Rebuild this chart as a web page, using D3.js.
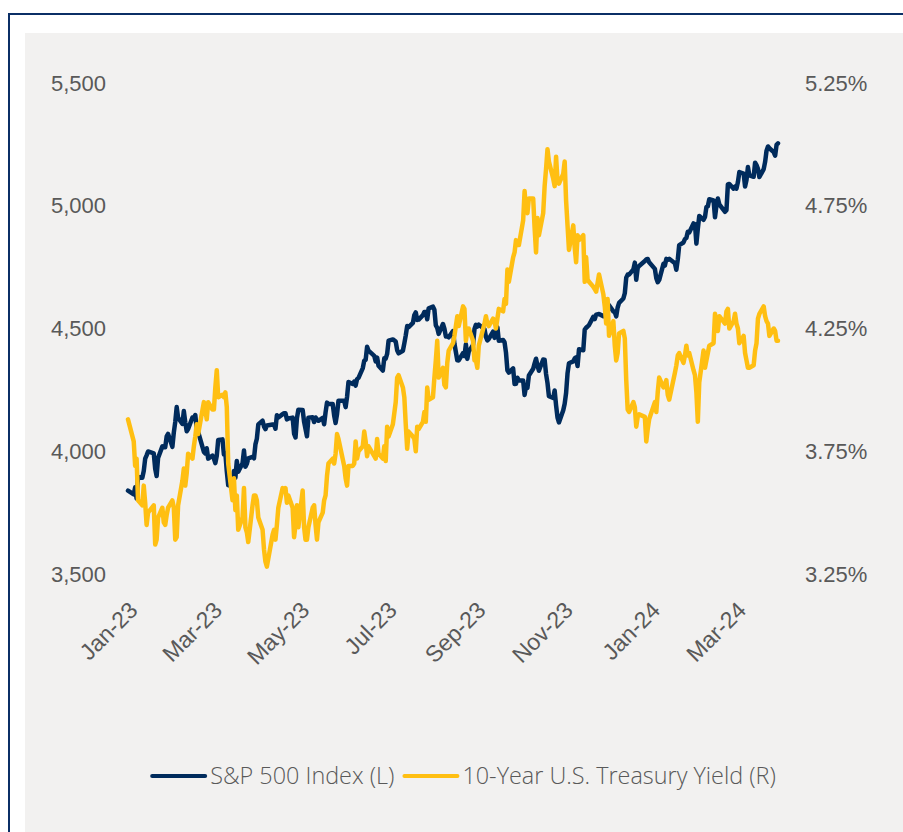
<!DOCTYPE html>
<html lang="en">
<head>
<meta charset="UTF-8">
<title>S&amp;P 500 Index vs 10-Year U.S. Treasury Yield</title>
<script src="https://cdn.jsdelivr.net/npm/d3@7"></script>
<style>
  body { margin: 0; background: #fff; }
  svg { display: block; font-family: 'Segoe UI', 'Open Sans', 'Noto Sans', sans-serif; }
  .lbl text { fill: #595959; font-size: 22px; font-weight: 350; }
  .xlbl text { font-size: 23px; }
  .legend text { font-size: 23.4px; }
</style>
</head>
<body>
<svg id="chart" width="903" height="832"></svg>
<script>
// trading days: weekdays between these dates, minus exchange holidays
const firstDay = "2022-12-30";
const lastDay = "2024-03-28";
const holidays = [
  "2023-01-02", "2023-01-16", "2023-02-20", "2023-04-07", "2023-05-29", "2023-06-19",
  "2023-07-04", "2023-09-04", "2023-11-23", "2023-12-25", "2024-01-01", "2024-01-15", "2024-02-19"
];

// S&P 500 closes (left axis), one line per month
const spx = [
  3839.5,
  3824.1, 3853.0, 3808.1, 3895.1, 3892.1, 3919.3, 3969.6, 3983.2, 3999.1, 3991.0, 3928.9, 3898.9, 3972.6, 4019.8, 4017.0, 4016.2, 4060.4, 4070.6, 4017.8, 4076.6,
  4119.2, 4179.8, 4136.5, 4111.1, 4164.0, 4117.9, 4081.5, 4090.5, 4137.3, 4136.1, 4147.6, 4090.4, 4079.1, 3997.3, 3991.1, 4012.3, 3970.0, 3982.2, 3970.2,
  3951.4, 3981.4, 4045.6, 4048.4, 3986.4, 3992.0, 3918.3, 3861.6, 3855.8, 3919.3, 3891.9, 3960.3, 3916.6, 3951.6, 4002.9, 3937.0, 3948.7, 3971.0, 3977.5, 3971.3, 4027.8, 4050.8, 4109.3,
  4124.5, 4100.6, 4090.4, 4105.0, 4109.1, 4108.9, 4092.0, 4146.2, 4137.6, 4151.3, 4154.9, 4154.5, 4129.8, 4133.5, 4137.0, 4071.6, 4056.0, 4135.4, 4169.5,
  4167.9, 4119.6, 4090.8, 4061.2, 4136.3, 4138.1, 4119.2, 4137.6, 4130.6, 4124.1, 4136.3, 4109.9, 4158.8, 4198.1, 4192.0, 4192.6, 4145.6, 4115.2, 4151.3, 4205.5, 4205.5, 4179.8,
  4221.0, 4282.4, 4273.8, 4283.9, 4267.5, 4293.9, 4298.9, 4338.9, 4369.0, 4372.6, 4425.8, 4409.6, 4388.7, 4365.7, 4381.9, 4348.3, 4328.8, 4378.4, 4376.9, 4396.4, 4450.4,
  4455.6, 4446.8, 4411.6, 4399.0, 4409.5, 4439.3, 4472.2, 4510.0, 4505.4, 4522.8, 4555.0, 4565.7, 4534.9, 4536.3, 4554.6, 4567.5, 4566.8, 4537.4, 4582.2, 4589.0,
  4576.7, 4513.4, 4501.9, 4478.0, 4518.4, 4499.4, 4467.7, 4468.8, 4464.1, 4489.7, 4437.9, 4404.3, 4370.4, 4369.7, 4399.8, 4387.6, 4436.0, 4376.3, 4405.7, 4433.3, 4497.6, 4514.9, 4507.7,
  4515.8, 4496.8, 4465.5, 4451.1, 4457.5, 4487.5, 4461.9, 4467.4, 4505.1, 4450.3, 4453.5, 4444.0, 4402.2, 4330.0, 4320.1, 4337.4, 4273.5, 4274.5, 4299.7, 4288.1,
  4288.4, 4229.5, 4263.8, 4258.2, 4308.5, 4335.7, 4358.2, 4377.0, 4349.6, 4327.8, 4373.6, 4373.2, 4314.6, 4278.0, 4224.2, 4217.0, 4247.7, 4186.8, 4137.2, 4117.4, 4166.8, 4193.8,
  4237.9, 4317.8, 4358.3, 4366.0, 4378.4, 4382.8, 4347.4, 4415.2, 4411.6, 4495.7, 4502.9, 4508.2, 4514.0, 4547.4, 4538.2, 4556.6, 4559.3, 4550.4, 4554.9, 4550.6, 4567.8,
  4594.6, 4569.8, 4567.2, 4549.3, 4585.6, 4604.4, 4622.4, 4643.7, 4707.1, 4719.6, 4719.2, 4740.6, 4768.4, 4698.4, 4746.8, 4754.6, 4774.8, 4781.6, 4783.4, 4769.8,
  4742.8, 4704.8, 4688.7, 4697.2, 4763.5, 4756.5, 4783.5, 4780.2, 4783.8, 4766.0, 4739.2, 4780.9, 4839.8, 4850.4, 4864.6, 4868.6, 4894.2, 4891.0, 4927.9, 4925.0, 4845.7,
  4906.2, 4958.6, 4942.8, 4954.2, 4995.1, 4997.9, 5026.6, 5021.8, 4953.2, 5000.6, 5029.7, 5005.6, 4975.5, 4981.8, 5087.0, 5088.8, 5069.5, 5078.2, 5069.8, 5096.3,
  5137.1, 5131.0, 5078.7, 5104.8, 5157.4, 5123.7, 5117.9, 5175.3, 5165.3, 5150.5, 5117.1, 5149.4, 5178.5, 5224.6, 5241.5, 5234.2, 5218.2, 5203.6, 5248.5, 5254.4
];

// 10-year U.S. Treasury yield in % (right axis), same days
const ust10 = [
  3.88,
  3.79, 3.69, 3.72, 3.55, 3.53, 3.61, 3.54, 3.45, 3.50, 3.53, 3.37, 3.39, 3.48, 3.52, 3.46, 3.45, 3.49, 3.52, 3.55, 3.52,
  3.39, 3.40, 3.53, 3.63, 3.68, 3.61, 3.66, 3.74, 3.72, 3.77, 3.81, 3.86, 3.82, 3.95, 3.92, 3.88, 3.95, 3.92, 3.92,
  4.01, 4.08, 3.97, 3.98, 3.97, 3.99, 3.93, 3.70, 3.55, 3.64, 3.51, 3.57, 3.43, 3.48, 3.60, 3.44, 3.42, 3.38, 3.53, 3.57, 3.57, 3.55, 3.48,
  3.43, 3.35, 3.30, 3.28, 3.41, 3.43, 3.39, 3.45, 3.52, 3.60, 3.59, 3.60, 3.54, 3.57, 3.52, 3.40, 3.45, 3.53, 3.44,
  3.59, 3.44, 3.39, 3.39, 3.44, 3.52, 3.53, 3.45, 3.39, 3.46, 3.50, 3.55, 3.57, 3.65, 3.70, 3.72, 3.70, 3.74, 3.82, 3.80, 3.69, 3.64,
  3.61, 3.69, 3.69, 3.70, 3.79, 3.72, 3.75, 3.77, 3.83, 3.79, 3.73, 3.77, 3.73, 3.72, 3.80, 3.74, 3.72, 3.77, 3.71, 3.85, 3.81,
  3.86, 3.95, 4.05, 4.06, 4.01, 3.97, 3.86, 3.76, 3.83, 3.81, 3.80, 3.75, 3.85, 3.84, 3.87, 3.91, 3.87, 4.01, 3.96, 3.97,
  4.05, 4.12, 4.20, 4.05, 4.09, 4.02, 4.01, 4.11, 4.16, 4.19, 4.22, 4.26, 4.30, 4.26, 4.34, 4.33, 4.20, 4.24, 4.25, 4.20, 4.12, 4.12, 4.09,
  4.18, 4.27, 4.30, 4.27, 4.26, 4.29, 4.28, 4.25, 4.29, 4.33, 4.32, 4.37, 4.35, 4.49, 4.44, 4.54, 4.56, 4.61, 4.59, 4.59,
  4.69, 4.81, 4.73, 4.72, 4.78, 4.78, 4.66, 4.56, 4.70, 4.63, 4.72, 4.83, 4.90, 4.98, 4.93, 4.86, 4.83, 4.95, 4.85, 4.84, 4.88, 4.93,
  4.77, 4.67, 4.57, 4.67, 4.58, 4.52, 4.63, 4.61, 4.63, 4.44, 4.54, 4.45, 4.44, 4.42, 4.41, 4.40, 4.47, 4.39, 4.34, 4.27, 4.37,
  4.22, 4.28, 4.18, 4.12, 4.15, 4.23, 4.24, 4.21, 4.04, 3.92, 3.91, 3.95, 3.93, 3.85, 3.89, 3.90, 3.89, 3.79, 3.84, 3.88,
  3.95, 3.91, 3.99, 4.05, 4.01, 4.02, 4.04, 3.98, 3.96, 4.07, 4.10, 4.14, 4.15, 4.11, 4.14, 4.18, 4.14, 4.15, 4.08, 4.06, 3.99,
  3.87, 4.03, 4.16, 4.09, 4.12, 4.15, 4.18, 4.19, 4.31, 4.27, 4.24, 4.30, 4.27, 4.32, 4.33, 4.25, 4.28, 4.31, 4.27, 4.25,
  4.19, 4.22, 4.15, 4.12, 4.09, 4.09, 4.10, 4.16, 4.19, 4.29, 4.31, 4.34, 4.30, 4.28, 4.27, 4.22, 4.25, 4.24, 4.20, 4.20
];

const leftTicks = [3500, 4000, 4500, 5000, 5500];
const rightTicks = [3.25, 3.75, 4.25, 4.75, 5.25];
const monthTicks = ["2023-01-01", "2023-03-01", "2023-05-01", "2023-07-01", "2023-09-01", "2023-11-01", "2024-01-01", "2024-03-01"];
const seriesNames = ["S&P 500 Index (L)", "10-Year U.S. Treasury Yield (R)"];
const seriesColors = ["#002B5C", "#FFBF12"];

const parse = d3.utcParse("%Y-%m-%d");
const fmtDay = d3.utcFormat("%Y-%m-%d");
const start = parse(firstDay), end = parse(lastDay);
const dates = d3.utcDay.range(start, d3.utcDay.offset(end, 1))
  .filter(d => d.getUTCDay() !== 0 && d.getUTCDay() !== 6 && !holidays.includes(fmtDay(d)));

const n = Math.min(dates.length, spx.length, ust10.length);
if (dates.length !== spx.length || dates.length !== ust10.length)
  console.warn("length mismatch", dates.length, spx.length, ust10.length);

const rows = d3.range(n).map(i => ({ date: dates[i], spx: spx[i], y10: ust10[i] }));

const svg = d3.select("#chart");

// outer frame and grey panel
svg.append("path")
  .attr("d", "M9,832 V14 H903")
  .attr("fill", "none")
  .attr("stroke", "#0B2F66")
  .attr("stroke-width", 2);
svg.append("rect")
  .attr("x", 25).attr("y", 33)
  .attr("width", 878).attr("height", 799)
  .attr("fill", "#F2F1F0");

const x = d3.scaleUtc().domain([start, end]).range([128, 778]);
const yL = d3.scaleLinear().domain([3500, 5500]).range([574, 83]);
const yR = d3.scaleLinear().domain([3.25, 5.25]).range([574, 83]);

// left axis
svg.append("g")
  .attr("class", "lbl")
  .attr("transform", "translate(106,0)")
  .call(d3.axisLeft(yL).tickValues(leftTicks).tickFormat(d3.format(",")).tickSize(0).tickPadding(0))
  .call(g => g.select(".domain").remove())
  .selectAll("text").attr("font-family", null).attr("font-size", null);

// right axis
svg.append("g")
  .attr("class", "lbl")
  .attr("transform", "translate(805,0)")
  .call(d3.axisRight(yR).tickValues(rightTicks).tickFormat(d => d.toFixed(2) + "%").tickSize(0).tickPadding(0))
  .call(g => g.select(".domain").remove())
  .selectAll("text").attr("font-family", null).attr("font-size", null);

// bottom axis, rotated month labels
svg.append("g")
  .attr("class", "lbl xlbl")
  .attr("transform", "translate(0,574)")
  .call(d3.axisBottom(x).tickValues(monthTicks.map(parse)).tickFormat(d3.utcFormat("%b-%y")).tickSize(0))
  .call(g => g.select(".domain").remove())
  .selectAll("text")
    .attr("font-family", null).attr("font-size", null)
    .attr("x", 0).attr("y", 0).attr("dy", "0.35em")
    .attr("text-anchor", "end")
    .attr("transform", "translate(2,32) rotate(-45)");

// lines
const lineL = d3.line().x(d => x(d.date)).y(d => yL(d.spx));
const lineR = d3.line().x(d => x(d.date)).y(d => yR(d.y10));

svg.append("path")
  .datum(rows)
  .attr("d", lineL)
  .attr("fill", "none")
  .attr("stroke", seriesColors[0])
  .attr("stroke-width", 4.5)
  .attr("stroke-linejoin", "round")
  .attr("stroke-linecap", "round");

svg.append("path")
  .datum(rows)
  .attr("d", lineR)
  .attr("fill", "none")
  .attr("stroke", seriesColors[1])
  .attr("stroke-width", 4.5)
  .attr("stroke-linejoin", "round")
  .attr("stroke-linecap", "round");

// legend, centred in the panel
const legend = svg.append("g").attr("class", "lbl legend");
const items = legend.selectAll("g")
  .data(seriesNames)
  .join("g");
items.append("line")
  .attr("x1", 0).attr("x2", 53)
  .attr("y1", 0).attr("y2", 0)
  .attr("stroke", (d, i) => seriesColors[i])
  .attr("stroke-width", 4)
  .attr("stroke-linecap", "round");
items.append("text")
  .attr("x", 58)
  .attr("dy", "0.35em")
  .text(d => d);

let offset = 0;
items.each(function () {
  const w = 58 + d3.select(this).select("text").node().getComputedTextLength();
  d3.select(this).attr("transform", `translate(${offset},0)`);
  offset += w + 10;
});
const total = offset - 10;
legend.attr("transform", `translate(${464 - total / 2},776)`);
</script>
</body>
</html>
